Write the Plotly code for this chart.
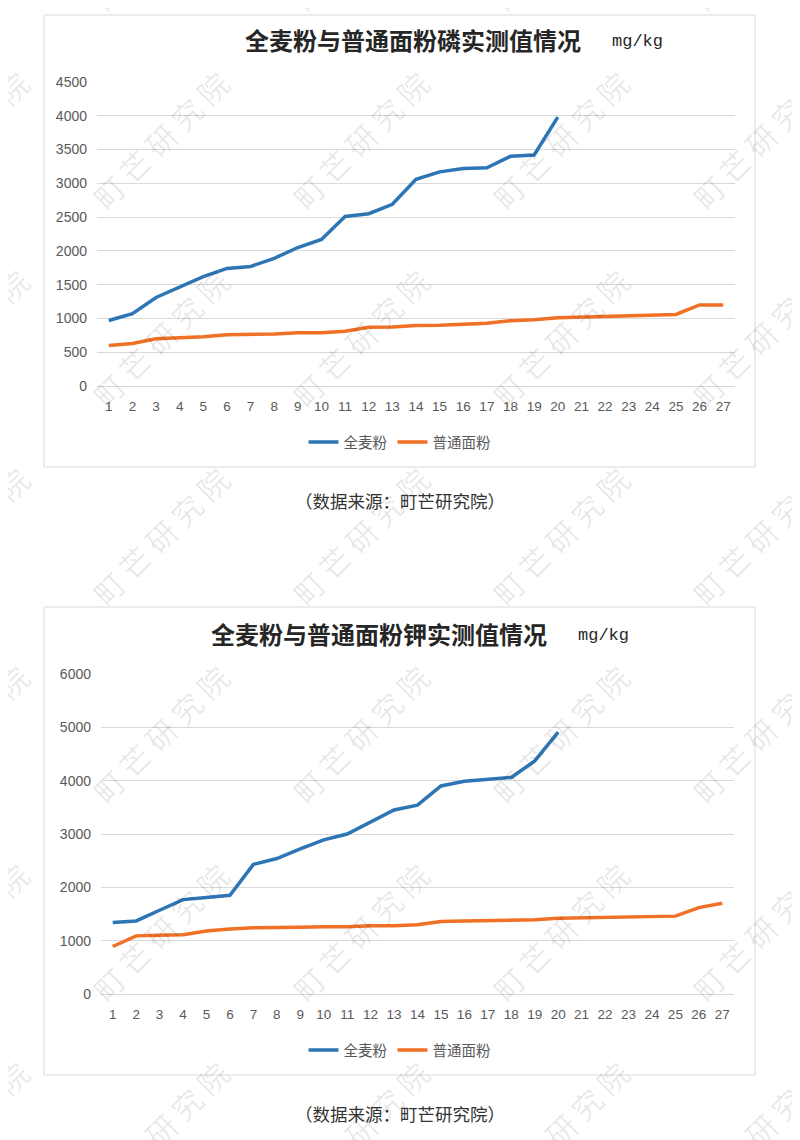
import plotly.graph_objects as go

# sample numbers on the x axis
samples = [1, 2, 3, 4, 5, 6, 7, 8, 9, 10, 11, 12, 13, 14, 15, 16, 17, 18, 19, 20,
           21, 22, 23, 24, 25, 26, 27]

# phosphorus, mg/kg
p_whole = [970, 1070, 1310, 1470, 1620, 1740, 1770, 1890, 2050, 2170, 2510, 2550, 2690,
           3060, 3170, 3220, 3230, 3400, 3420, 3980]
p_plain = [600, 630, 700, 710, 730, 760, 765, 770, 790, 790, 810, 870, 875, 895, 900, 920,
           930, 965, 980, 1010, 1020, 1020, 1030, 1040, 1060, 1200, 1200]

# potassium, mg/kg
k_whole = [1340, 1370, 1570, 1770, 1810, 1850, 2430, 2540, 2720, 2890, 3000, 3230, 3450,
           3540, 3900, 3990, 4020, 4060, 4370, 4910]
k_plain = [890, 1090, 1100, 1110, 1180, 1220, 1240, 1240, 1250, 1260, 1260, 1280, 1280,
           1300, 1360, 1370, 1375, 1380, 1390, 1420, 1430, 1440, 1450, 1450, 1460, 1620, 1700]

series_names = ["全麦粉", "普通面粉"]
titles = ["全麦粉与普通面粉磷实测值情况", "全麦粉与普通面粉钾实测值情况"]
unit = "mg/kg"
source = "（数据来源：町芒研究院）"
watermark = "町 芒 研 究 院"

W, H = 800, 1140
OFF = 8  # the page body margin shifts the figure by this much
BLUE = "#2e75b6"
ORANGE = "#f07025"
GRID = "#d9d9d9"
TICK = "#595959"
CJK = "Noto Sans CJK SC"


# screen pixel -> paper fraction
def px(x):
    return (x - OFF) / W


def py(y):
    return 1 - (y - OFF) / H


fig = go.Figure()

# chart 1 traces
fig.add_trace(go.Scatter(x=samples[:len(p_whole)], y=p_whole, name=series_names[0], mode="lines",
                         line=dict(color=BLUE, width=3.5), xaxis="x", yaxis="y", legend="legend"))
fig.add_trace(go.Scatter(x=samples, y=p_plain, name=series_names[1], mode="lines",
                         line=dict(color=ORANGE, width=3.5), xaxis="x", yaxis="y", legend="legend"))
# chart 2 traces
fig.add_trace(go.Scatter(x=samples[:len(k_whole)], y=k_whole, name=series_names[0], mode="lines",
                         line=dict(color=BLUE, width=3.5), xaxis="x2", yaxis="y2", legend="legend2"))
fig.add_trace(go.Scatter(x=samples, y=k_plain, name=series_names[1], mode="lines",
                         line=dict(color=ORANGE, width=3.5), xaxis="x2", yaxis="y2", legend="legend2"))

xax = dict(range=[0.5, 27.5], tickmode="array", tickvals=samples, showgrid=False,
           showline=True, linecolor=GRID, linewidth=1, ticks="", zeroline=False,
           automargin=False, ticklabelstandoff=8,
           tickfont=dict(family="Liberation Sans", size=13.5, color=TICK))
yax = dict(showgrid=True, gridcolor=GRID, gridwidth=1, zeroline=False, showline=False,
           ticks="", ticklabelstandoff=9, automargin=False,
           tickfont=dict(family="Liberation Sans", size=14, color=TICK))

legend_style = dict(orientation="h", xanchor="center", yanchor="middle", x=px(400),
                    font=dict(family=CJK, size=14.5, color=TICK), bgcolor="rgba(0,0,0,0)",
                    itemwidth=30, tracegroupgap=0)

fig.update_layout(
    width=W, height=H, autosize=False,
    margin=dict(l=0, r=0, t=0, b=0, autoexpand=False),
    paper_bgcolor="white", plot_bgcolor="white",
    xaxis=dict(xax, domain=[px(97), px(735)], anchor="y"),
    yaxis=dict(yax, domain=[py(386), py(82)], range=[0, 4500], dtick=500, anchor="x"),
    xaxis2=dict(xax, domain=[px(101), px(734)], anchor="y2"),
    yaxis2=dict(yax, domain=[py(994), py(674)], range=[0, 6000], dtick=1000, anchor="x2"),
    legend=dict(legend_style, y=py(442)),
    legend2=dict(legend_style, y=py(1050)),
)

# chart frames
for top, bottom in [(15, 467), (607, 1075)]:
    fig.add_shape(type="rect", xref="paper", yref="paper", x0=px(44), x1=px(755),
                  y0=py(bottom), y1=py(top), line=dict(color=GRID, width=1), layer="below")

# titles, units and source captions
for t, cx, ty, ux, cy in [(titles[0], 413, 40, 610, 500), (titles[1], 379, 633, 576, 1113)]:
    fig.add_annotation(text="<b>" + t + "</b>", x=px(cx), y=py(ty), xref="paper", yref="paper",
                       showarrow=False, xanchor="center", yanchor="middle",
                       font=dict(family=CJK, size=24, color="#262626"))
    fig.add_annotation(text=unit, x=px(ux), y=py(ty + 2), xref="paper", yref="paper",
                       showarrow=False, xanchor="left", yanchor="middle",
                       font=dict(family="Liberation Mono", size=17, color="#262626"))
    fig.add_annotation(text=source, x=px(400), y=py(cy), xref="paper", yref="paper",
                       showarrow=False, xanchor="center", yanchor="middle",
                       font=dict(family=CJK, size=17.5, color="#333333"))

# diagonal watermark grid
for wy in [-58, 140, 338, 536, 734, 932, 1130]:
    for wx in [-40, 160, 360, 560, 760]:
        fig.add_annotation(text=watermark, x=px(wx), y=py(wy), xref="paper", yref="paper",
                           showarrow=False, textangle=-45, xanchor="center", yanchor="middle",
                           font=dict(family=CJK, size=30, color="rgba(0,0,0,0.09)"))

fig.write_html("out.html")
